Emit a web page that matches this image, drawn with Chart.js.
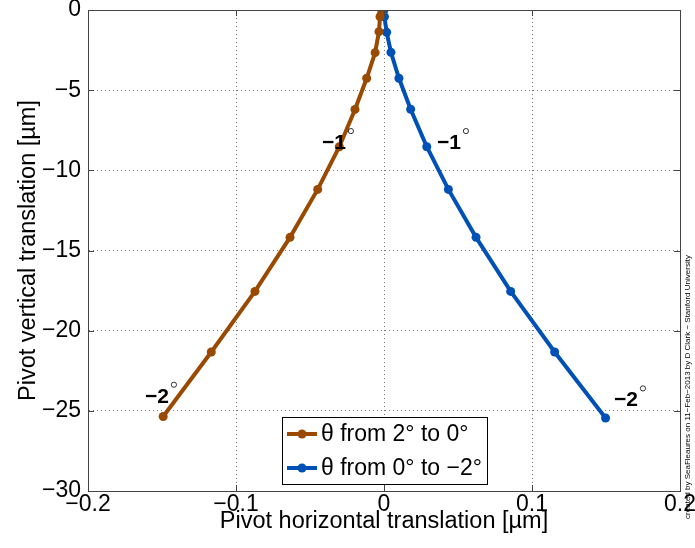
<!DOCTYPE html>
<html><head><meta charset="utf-8">
<script src="https://cdn.jsdelivr.net/npm/chart.js@4.4.0/dist/chart.umd.min.js"></script>
<style>html,body{margin:0;padding:0;background:#fff;}#wrap{width:695px;height:548px;position:relative;}</style>
</head><body><div id="wrap"><canvas id="c" width="695" height="548"></canvas></div>
<script>
// ---- data ----
const xTicks = [-0.2, -0.1, 0, 0.1, 0.2];
const yTicks = [0, -5, -10, -15, -20, -25, -30];
const seriesLabels = ['θ from 2° to 0°', 'θ from 0° to −2°'];
const brownX = [-0.1492, -0.1167, -0.0872, -0.0635, -0.0448, -0.0302, -0.0196, -0.0117, -0.0060, -0.0034, -0.0027, -0.0015];
const brownY = [-25.35, -21.33, -17.55, -14.18, -11.19, -8.53, -6.20, -4.26, -2.66, -1.35, -0.42, -0.15];
const blueX = [0, 0.0003, 0.0018, 0.0047, 0.0101, 0.0180, 0.0289, 0.0435, 0.0622, 0.0856, 0.1153, 0.1497];
const blueY = [0, -0.42, -1.39, -2.64, -4.26, -6.19, -8.53, -11.19, -14.18, -17.55, -21.33, -25.45];
const angleText = ['−1', '−1', '−2', '−2'];
const angleX = [-0.0419, 0.0358, -0.1615, 0.1554];
const angleY = [-8.30, -8.30, -24.12, -24.35];
const creditText = 'created by SeaFleaures on 11−Feb−2013 by D Clark − Stanford University';

const BROWN = '#9a4a00';
const BLUE = '#0051b5';
const FONT = 'Liberation Sans, Arial, Helvetica, sans-serif';
const fmt = v => { const s = String(Math.abs(v)); return v < 0 ? '−' + s : s; };

const boxPlugin = {
  id: 'box',
  afterDraw(chart) {
    const {ctx, chartArea: a, scales} = chart;
    ctx.save();
    ctx.strokeStyle = '#444';
    ctx.lineWidth = 1;
    ctx.setLineDash([]);
    ctx.strokeRect(a.left + 0.5, a.top + 0.5, a.right - a.left, a.bottom - a.top);
    const tl = 6;
    ctx.beginPath();
    xTicks.forEach(v => {
      const px = Math.round(scales.x.getPixelForValue(v)) + 0.5;
      ctx.moveTo(px, a.bottom); ctx.lineTo(px, a.bottom - tl);
      ctx.moveTo(px, a.top); ctx.lineTo(px, a.top + tl);
    });
    yTicks.forEach(v => {
      const py = Math.round(scales.y.getPixelForValue(v)) + 0.5;
      ctx.moveTo(a.left, py); ctx.lineTo(a.left + tl, py);
      ctx.moveTo(a.right, py); ctx.lineTo(a.right - tl, py);
    });
    ctx.stroke();
    ctx.restore();
  }
};

const labelPlugin = {
  id: 'angleLabels',
  afterDatasetsDraw(chart) {
    const {ctx, scales} = chart;
    ctx.save();
    angleText.forEach((t, i) => {
      const px = scales.x.getPixelForValue(angleX[i]);
      const py = scales.y.getPixelForValue(angleY[i]);
      ctx.fillStyle = '#000';
      ctx.font = 'bold 21px ' + FONT;
      ctx.textAlign = 'left';
      ctx.textBaseline = 'middle';
      ctx.fillText(t, px, py);
      const w = ctx.measureText(t).width;
      ctx.strokeStyle = '#000';
      ctx.lineWidth = 0.8;
      ctx.beginPath();
      ctx.arc(px + w + 5, py - 12, 2.6, 0, Math.PI * 2);
      ctx.stroke();
    });
    ctx.restore();
  }
};

const legendPlugin = {
  id: 'boxLegend',
  afterDraw(chart) {
    const {ctx, chartArea: a} = chart;
    const L = a.left + 194, T = a.top + 407, W = 205, H = 67;
    ctx.save();
    ctx.fillStyle = '#fff';
    ctx.fillRect(L, T, W, H);
    ctx.strokeStyle = '#000';
    ctx.lineWidth = 1;
    ctx.strokeRect(L + 0.5, T + 0.5, W, H);
    const colors = [BROWN, BLUE];
    seriesLabels.forEach((lab, i) => {
      const cy = T + 17 + i * 34;
      ctx.strokeStyle = colors[i];
      ctx.lineWidth = 4;
      ctx.beginPath(); ctx.moveTo(L + 5, cy); ctx.lineTo(L + 35, cy); ctx.stroke();
      ctx.fillStyle = colors[i];
      ctx.beginPath(); ctx.arc(L + 20, cy, 4.5, 0, Math.PI * 2); ctx.fill();
      ctx.fillStyle = '#000';
      ctx.font = '23px ' + FONT;
      ctx.textAlign = 'left';
      ctx.textBaseline = 'middle';
      ctx.fillText(lab, L + 39, cy + 1);
    });
    ctx.restore();
  }
};

const creditPlugin = {
  id: 'credit',
  afterDraw(chart) {
    const {ctx} = chart;
    ctx.save();
    ctx.translate(688, 387);
    ctx.rotate(-Math.PI / 2);
    ctx.fillStyle = '#000';
    ctx.font = '8px ' + FONT;
    ctx.textAlign = 'center';
    ctx.textBaseline = 'middle';
    ctx.fillText(creditText, 0, 0);
    ctx.restore();
  }
};

const mk = (xs, ys) => xs.map((x, i) => ({x, y: ys[i]}));

new Chart(document.getElementById('c'), {
  type: 'scatter',
  data: {
    datasets: [
      {label: seriesLabels[0], data: mk(brownX, brownY), showLine: true, borderColor: BROWN, backgroundColor: BROWN,
       borderWidth: 4, pointRadius: 4.5, pointBorderWidth: 0, tension: 0},
      {label: seriesLabels[1], data: mk(blueX, blueY), showLine: true, borderColor: BLUE, backgroundColor: BLUE,
       borderWidth: 4, pointRadius: 4.5, pointBorderWidth: 0, tension: 0}
    ]
  },
  options: {
    responsive: false, animation: false, devicePixelRatio: 1,
    layout: {padding: {top: 10, right: 15, left: 0, bottom: 0}},
    plugins: {legend: {display: false}, tooltip: {enabled: false}},
    scales: {
      x: {
        type: 'linear', min: -0.2, max: 0.2,
        afterBuildTicks: s => { s.ticks = xTicks.map(v => ({value: v})); },
        afterFit: s => { s.height = 57; s.paddingLeft = 0; s.paddingRight = 0; },
        ticks: {callback: v => fmt(v), font: {family: FONT, size: 23}, color: '#000', padding: 0, maxRotation: 0, autoSkip: false},
        grid: {color: '#777', lineWidth: 1, drawTicks: false},
        border: {display: true, color: '#444', width: 1, dash: [1, 3]},
        title: {display: true, text: 'Pivot horizontal translation [µm]', color: '#000', font: {family: FONT, size: 23.5}, padding: {top: 12, bottom: 12}}
      },
      y: {
        type: 'linear', min: -30, max: 0,
        afterBuildTicks: s => { s.ticks = yTicks.map(v => ({value: v})); },
        afterFit: s => { s.width = 88; s.paddingTop = 0; s.paddingBottom = 0; },
        ticks: {callback: v => fmt(v), font: {family: FONT, size: 23}, color: '#000', padding: 7, autoSkip: false},
        grid: {color: '#777', lineWidth: 1, drawTicks: false},
        border: {display: true, color: '#444', width: 1, dash: [1, 3]},
        title: {display: true, text: 'Pivot vertical translation [µm]', color: '#000', font: {family: FONT, size: 23.5}, padding: {top: 14, bottom: 14}}
      }
    }
  },
  plugins: [boxPlugin, labelPlugin, legendPlugin, creditPlugin]
});
</script></body></html>
